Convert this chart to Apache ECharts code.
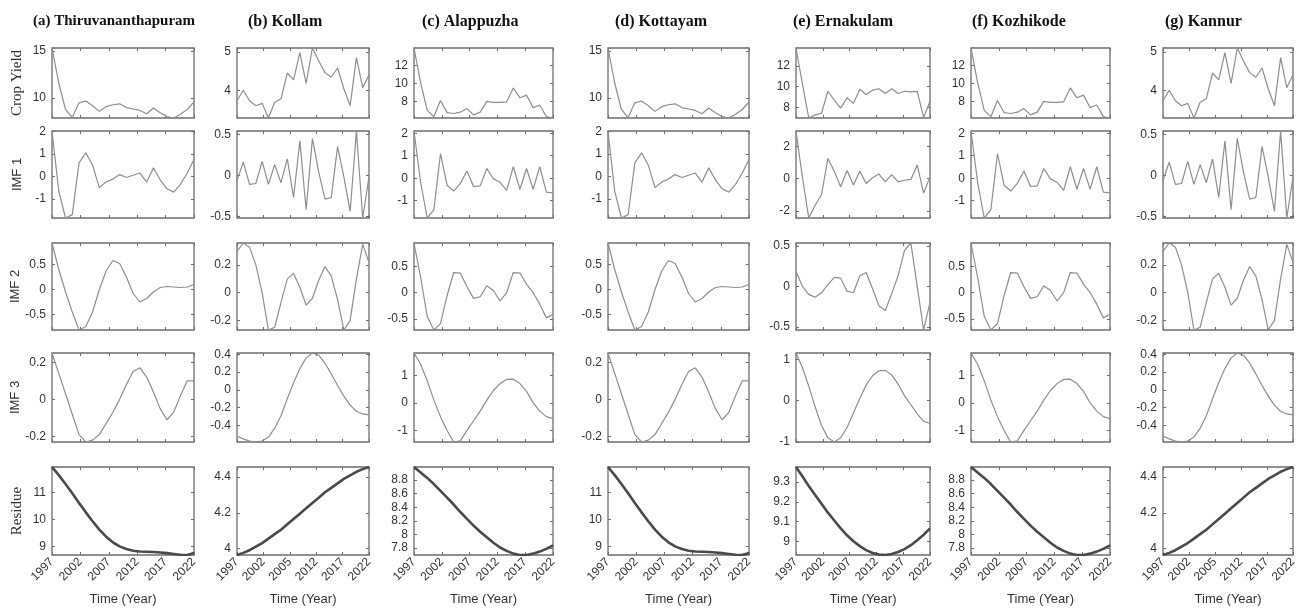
<!DOCTYPE html>
<html>
<head>
<meta charset="utf-8">
<script src="https://cdn.jsdelivr.net/npm/echarts@6/dist/echarts.min.js"></script>
<style>
  html, body { margin: 0; padding: 0; background: #fff; }
  #chart { width: 1303px; height: 611px; }
</style>
</head>
<body>
<div id="chart"></div>
<script>
// x tick labels (Kollam / Kannur panels print 2005 in place of 2007)
const yearTicks = ['1997', '2002', '2007', '2012', '2017', '2022'];
const yearTicksAlt = ['1997', '2002', '2005', '2012', '2017', '2022'];

// Thiruvananthapuram (Kottayam panels in the figure show the same curves)
const tvmYield = [15.3, 11.6, 8.8, 7.95, 9.5, 9.7, 9.2, 8.6, 9.1, 9.3, 9.4, 9.0, 8.85, 8.7, 8.35, 8.95, 8.45, 8.05, 7.9, 8.3, 8.8, 9.6];
const tvmImf1 = [2.02, -0.65, -1.85, -1.7, 0.6, 1.05, 0.5, -0.5, -0.25, -0.12, 0.08, -0.05, 0.05, 0.15, -0.25, 0.38, -0.15, -0.55, -0.7, -0.35, 0.15, 0.75];
const tvmImf2 = [0.93, 0.4, -0.05, -0.45, -0.81, -0.74, -0.45, 0.0, 0.37, 0.58, 0.52, 0.25, -0.08, -0.25, -0.18, -0.05, 0.04, 0.06, 0.05, 0.04, 0.05, 0.1];
const tvmImf3 = [0.25, 0.14, 0.03, -0.08, -0.19, -0.23, -0.22, -0.19, -0.13, -0.07, 0.0, 0.08, 0.15, 0.17, 0.12, 0.04, -0.05, -0.11, -0.07, 0.02, 0.1, 0.1];
const tvmResidue = [11.95, 11.65, 11.32, 10.98, 10.62, 10.27, 9.94, 9.63, 9.37, 9.16, 9.01, 8.91, 8.85, 8.82, 8.81, 8.8, 8.78, 8.76, 8.73, 8.7, 8.69, 8.76];
const tvmTicks = [[10, 15], [-1, 0, 1, 2], [-0.5, 0, 0.5], [-0.2, 0, 0.2], [9, 10, 11]];

// Kollam (Kannur panels in the figure show the same curves)
const kolYield = [3.73, 4.0, 3.73, 3.6, 3.66, 3.28, 3.69, 3.78, 4.45, 4.27, 4.98, 4.18, 5.1, 4.76, 4.46, 4.34, 4.58, 4.04, 3.6, 4.85, 4.07, 4.4];
const kolImf1 = [-0.06, 0.16, -0.11, -0.1, 0.17, -0.11, 0.13, -0.09, 0.2, -0.27, 0.42, -0.42, 0.45, 0.04, -0.29, -0.27, 0.35, -0.02, -0.44, 0.54, -0.52, -0.02];
const kolImf2 = [0.3, 0.36, 0.33, 0.2, 0.0, -0.27, -0.25, -0.07, 0.1, 0.14, 0.04, -0.09, -0.04, 0.09, 0.19, 0.12, -0.05, -0.27, -0.2, 0.1, 0.35, 0.22];
const kolImf3 = [-0.52, -0.55, -0.575, -0.585, -0.575, -0.53, -0.43, -0.29, -0.1, 0.08, 0.24, 0.36, 0.415, 0.39, 0.3, 0.18, 0.05, -0.07, -0.17, -0.24, -0.27, -0.28];
const kolResidue = [3.963, 3.975, 3.99, 4.01, 4.03, 4.055, 4.08, 4.105, 4.135, 4.165, 4.195, 4.225, 4.255, 4.285, 4.315, 4.34, 4.365, 4.39, 4.41, 4.43, 4.445, 4.457];
const kolTicks = [[4, 5], [-0.5, 0, 0.5], [-0.2, 0, 0.2], [-0.4, -0.2, 0, 0.2, 0.4], [4, 4.2, 4.4]];

// Alappuzha (Kozhikode panels in the figure show the same curves)
const alpYield = [13.95, 10.1, 7.0, 6.3, 8.1, 6.75, 6.65, 6.8, 7.2, 6.5, 6.8, 8.0, 7.9, 7.9, 7.95, 9.5, 8.4, 8.7, 7.3, 7.6, 6.3, 6.15];
const alpImf1 = [2.1, -0.18, -1.77, -1.41, 1.09, -0.31, -0.57, -0.23, 0.32, -0.37, -0.34, 0.43, -0.03, -0.18, -0.54, 0.51, -0.49, 0.43, -0.49, 0.51, -0.62, -0.65];
const alpImf2 = [0.94, 0.29, -0.45, -0.71, -0.59, -0.06, 0.38, 0.37, 0.11, -0.11, -0.08, 0.13, 0.04, -0.16, 0.0, 0.38, 0.37, 0.16, 0.0, -0.22, -0.48, -0.41];
const alpImf3 = [1.81, 1.4, 0.8, 0.1, -0.5, -1.0, -1.42, -1.38, -1.0, -0.65, -0.3, 0.1, 0.45, 0.7, 0.85, 0.86, 0.7, 0.42, 0.0, -0.3, -0.5, -0.57];
const alpResidue = [8.99, 8.91, 8.83, 8.74, 8.64, 8.54, 8.44, 8.33, 8.23, 8.13, 8.04, 7.96, 7.88, 7.81, 7.76, 7.72, 7.7, 7.7, 7.72, 7.75, 7.79, 7.84];
const alpTicks = [[8, 10, 12], [-1, 0, 1, 2], [-0.5, 0, 0.5], [-1, 0, 1], [7.8, 8, 8.2, 8.4, 8.6, 8.8]];

// Ernakulam
const ekmYield = [13.7, 10.3, 7.0, 7.3, 7.47, 9.56, 8.72, 7.94, 8.94, 8.4, 9.75, 9.25, 9.66, 9.8, 9.34, 9.8, 9.34, 9.56, 9.5, 9.55, 7.05, 8.6];
const ekmImf1 = [2.95, 0.1, -2.44, -1.65, -1.0, 1.25, 0.45, -0.5, 0.5, -0.4, 0.45, -0.3, 0.05, 0.28, -0.2, 0.25, -0.2, -0.1, -0.05, 0.85, -0.9, 0.1];
const ekmImf2 = [0.185, 0.0, -0.1, -0.135, -0.08, 0.02, 0.11, 0.1, -0.06, -0.08, 0.13, 0.17, -0.03, -0.24, -0.3, -0.09, 0.13, 0.44, 0.535, 0.0, -0.54, -0.2];
const ekmImf3 = [1.15, 0.8, 0.35, -0.15, -0.6, -0.9, -1.0, -0.9, -0.65, -0.3, 0.05, 0.38, 0.6, 0.72, 0.73, 0.62, 0.4, 0.12, -0.1, -0.32, -0.5, -0.55];
const ekmResidue = [9.377, 9.33, 9.28, 9.235, 9.19, 9.145, 9.105, 9.065, 9.03, 9.0, 8.975, 8.955, 8.94, 8.932, 8.93, 8.935, 8.945, 8.96, 8.98, 9.005, 9.033, 9.065];
const ekmTicks = [[8, 10, 12], [-2, 0, 2], [-0.5, 0, 0.5], [-1, 0, 1], [9, 9.1, 9.2, 9.3]];

const rowNames = ['Crop Yield', 'IMF 1', 'IMF 2', 'IMF 3', 'Residue'];

const tvm = [tvmYield, tvmImf1, tvmImf2, tvmImf3, tvmResidue];
const kol = [kolYield, kolImf1, kolImf2, kolImf3, kolResidue];
const alp = [alpYield, alpImf1, alpImf2, alpImf3, alpResidue];
const ekm = [ekmYield, ekmImf1, ekmImf2, ekmImf3, ekmResidue];

const districts = [
  { title: '(a) Thiruvananthapuram', rows: tvm, ticks: tvmTicks, years: yearTicks },
  { title: '(b) Kollam', rows: kol, ticks: kolTicks, years: yearTicksAlt },
  { title: '(c) Alappuzha', rows: alp, ticks: alpTicks, years: yearTicks },
  { title: '(d) Kottayam', rows: tvm, ticks: tvmTicks, years: yearTicks },
  { title: '(e) Ernakulam', rows: ekm, ticks: ekmTicks, years: yearTicks },
  { title: '(f) Kozhikode', rows: alp, ticks: alpTicks, years: yearTicks },
  { title: '(g) Kannur', rows: kol, ticks: kolTicks, years: yearTicksAlt }
];

// layout of the panel boxes (px)
const colLeft = [52, 237, 414, 608, 796, 971, 1163];
const colRight = [194, 369, 553, 749, 930, 1110, 1293];
const titleLeft = [33, 248, 422, 615, 793, 972, 1165];
const rowTop = [48, 131, 243, 353, 467];
const rowBottom = [118, 218, 330, 442, 555];

const sans = 'Liberation Sans, Arial, sans-serif';
const serif = 'Liberation Serif, Times New Roman, serif';
const boxColor = '#6e6e6e';

const grids = [], xAxes = [], yAxes = [], series = [], titles = [];

districts.forEach((d, c) => {
  titles.push({
    text: d.title, left: titleLeft[c], top: 14, padding: 0,
    textStyle: { fontFamily: serif, fontWeight: 'bold', fontSize: c === 0 ? 15 : 16, color: '#111' }
  });
  d.rows.forEach((vals, r) => {
    const k = grids.length;
    const n = vals.length;
    const xPos = d.years.map((_, i) => i * (n - 1) / (d.years.length - 1));
    const yMin = Math.min(...vals), yMax = Math.max(...vals);
    grids.push({
      left: colLeft[c], top: rowTop[r],
      width: colRight[c] - colLeft[c], height: rowBottom[r] - rowTop[r],
      show: true, borderColor: boxColor, borderWidth: 1.3, backgroundColor: '#fff'
    });
    const tickStyle = { show: true, inside: true, length: 3, lineStyle: { color: boxColor } };
    // bottom axis with labels on the last row
    xAxes.push({
      type: 'value', gridIndex: k, min: 0, max: n - 1, position: 'bottom',
      axisLine: { show: false, onZero: false }, splitLine: { show: false },
      axisTick: Object.assign({ customValues: xPos }, tickStyle),
      axisLabel: {
        show: r === 4, customValues: xPos, rotate: 45, margin: 5,
        fontFamily: sans, fontSize: 12, color: '#333',
        formatter: v => d.years[xPos.findIndex(p => Math.abs(p - v) < 1e-6)] || ''
      },
      name: r === 4 ? 'Time (Year)' : '', nameLocation: 'middle', nameGap: 38,
      nameTextStyle: { fontFamily: sans, fontSize: 13, color: '#333' }
    });
    // top edge ticks (box style)
    xAxes.push({
      type: 'value', gridIndex: k, min: 0, max: n - 1, position: 'top',
      axisLine: { show: false, onZero: false }, splitLine: { show: false },
      axisTick: Object.assign({ customValues: xPos }, tickStyle),
      axisLabel: { show: false }
    });
    const useSerif = (r === 0 || r === 4);
    yAxes.push({
      type: 'value', gridIndex: k, min: yMin, max: yMax, position: 'left',
      axisLine: { show: false, onZero: false }, splitLine: { show: false },
      axisTick: Object.assign({ customValues: d.ticks[r] }, tickStyle),
      axisLabel: {
        customValues: d.ticks[r], margin: 6,
        fontFamily: sans, fontSize: 12, color: '#333',
        formatter: v => String(v)
      },
      name: c === 0 ? rowNames[r] : '', nameLocation: 'middle', nameRotate: 90,
      nameGap: useSerif ? 27 : 28,
      nameTextStyle: {
        fontFamily: useSerif ? serif : sans,
        fontSize: useSerif ? 15 : 13, color: '#333'
      }
    });
    // right edge ticks
    yAxes.push({
      type: 'value', gridIndex: k, min: yMin, max: yMax, position: 'right',
      axisLine: { show: false, onZero: false }, splitLine: { show: false },
      axisTick: Object.assign({ customValues: d.ticks[r] }, tickStyle),
      axisLabel: { show: false }
    });
    series.push({
      type: 'line', xAxisIndex: 2 * k, yAxisIndex: 2 * k,
      data: vals.map((v, i) => [i, v]),
      showSymbol: false, symbol: 'none', silent: true,
      lineStyle: r === 4 ? { color: '#4a4a4a', width: 2.6 } : { color: '#8e8e8e', width: 1.2 }
    });
  });
});

const chart = echarts.init(document.getElementById('chart'), null, { renderer: 'canvas' });
chart.setOption({
  animation: false,
  backgroundColor: '#fff',
  title: titles,
  grid: grids,
  xAxis: xAxes,
  yAxis: yAxes,
  series: series
});
</script>
</body>
</html>
